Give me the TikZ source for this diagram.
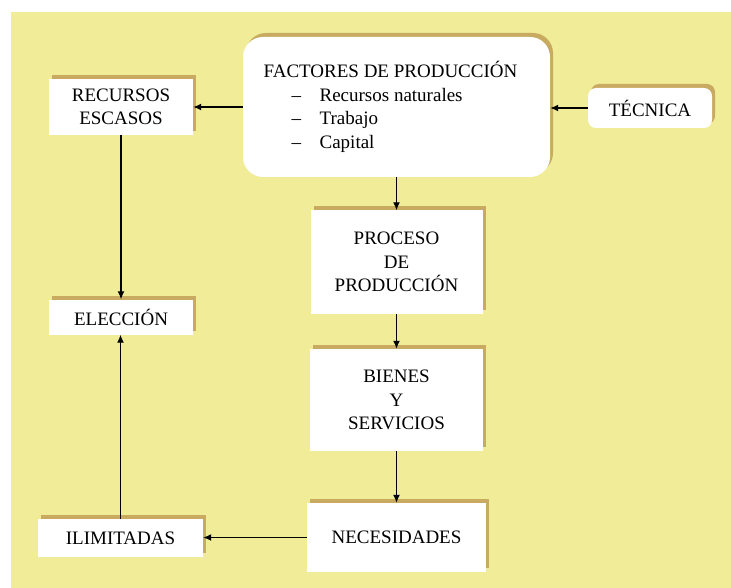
\documentclass[tikz,border=0pt]{standalone}
\usepackage{fontspec}
\setmainfont{Liberation Serif}
\usetikzlibrary{shadows,arrows.meta}

\definecolor{fondo}{HTML}{F0EC98}
\definecolor{sombra}{HTML}{C8AA60}

\tikzset{
  caja/.style={fill=white, align=center, inner sep=0pt,
    general shadow={fill=sombra, shadow xshift=3pt, shadow yshift=4pt},
    font=\fontsize{19}{23.5}\selectfont},
  flecha/.style={-{Latex[length=8pt,width=7pt]}, line width=1.3pt}
}

\begin{document}
\begin{tikzpicture}[x=1pt, y=-1pt]
            \useasboundingbox (0,0) rectangle (731,588);
            \fill[fondo] (11,12) rectangle (731,588);

            \node[caja, rounded corners=20pt, minimum width=307pt, minimum height=140pt, align=left] (fact) at (396.5,107)
              {FACTORES DE PRODUCCIÓN\hspace*{12pt}\\
               \hspace*{28pt}\makebox[28pt][l]{--}Recursos naturales\\
               \hspace*{28pt}\makebox[28pt][l]{--}Trabajo\\
               \hspace*{28pt}\makebox[28pt][l]{--}Capital};
            \node[caja, rounded corners=8pt, minimum width=124pt, minimum height=40pt] (tec) at (650,108) {TÉCNICA};
            \node[caja, minimum width=144pt, minimum height=56pt] (rec) at (121,107) {RECURSOS\\ESCASOS};
            \node[caja, minimum width=144pt, minimum height=35pt] (elec) at (121,317) {ELECCIÓN};
            \node[caja, minimum width=172pt, minimum height=103pt] (proc) at (396.5,262) {PROCESO\\DE\\PRODUCCIÓN};
            \node[caja, minimum width=173pt, minimum height=102pt] (bien) at (396.5,400) {BIENES\\Y\\SERVICIOS};
            \node[caja, minimum width=179pt, minimum height=69pt] (nec) at (396.5,537.5) {NECESIDADES};
            \node[caja, minimum width=165pt, minimum height=38pt] (ilim) at (120.5,538) {ILIMITADAS};

            \draw[flecha] (fact.west) -- (fact.west -| rec.east); % fact-rec
            \draw[flecha] (tec.west) -- (tec.west -| fact.east); % tec-fact
            \draw[flecha] (fact.south) -- (proc.north); % fact-proc
            \draw[flecha] (proc.south) -- (bien.north); % proc-bien
            \draw[flecha] (bien.south) -- (nec.north); % bien-nec
            \draw[flecha] (nec.west) -- (nec.west -| ilim.east); % nec-ilim
            \draw[flecha] (ilim.north) -- (ilim.north |- elec.south); % ilim-elec
            \draw[flecha] (rec.south) -- (rec.south |- elec.north); % rec-elec
        \end{tikzpicture}
\end{document}
